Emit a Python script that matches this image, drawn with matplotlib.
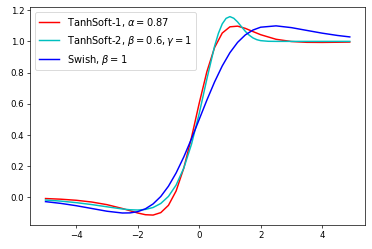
import matplotlib
matplotlib.use("Agg")
import matplotlib.pyplot as plt

# values (derivative curves)
x_ts1 = [-5, -4.5, -4, -3.5, -3, -2.5, -2.25, -2, -1.75, -1.5, -1.25, -1, -0.75, -0.5, -0.25,
         0, 0.25, 0.5, 0.75, 1, 1.25, 1.5, 1.75, 2, 2.5, 3, 3.5, 4, 4.5, 4.9]
y_ts1 = [-0.0067, -0.0110, -0.0179, -0.0290, -0.0460, -0.0705, -0.0849, -0.0993, -0.1104, -0.1127,
         -0.0970, -0.0502, 0.0420, 0.1887, 0.3843, 0.6030, 0.8060, 0.9602, 1.0534, 1.0933,
         1.0975, 1.0834, 1.0629, 1.0428, 1.0135, 0.9991, 0.9940, 0.9934, 0.9945, 0.9956]

x_ts2 = [-5, -4.5, -4, -3.5, -3, -2.5, -2.25, -2, -1.75, -1.5, -1.25, -1, -0.75, -0.5, -0.25,
         0, 0.25, 0.5, 0.625, 0.75, 0.875, 1, 1.125, 1.25, 1.375, 1.5, 1.625, 1.75, 1.875, 2,
         2.25, 2.5, 3, 3.5, 4, 4.5, 4.9]
y_ts2 = [-0.0162, -0.0233, -0.0330, -0.0453, -0.0597, -0.0736, -0.0786, -0.0803, -0.0766, -0.0642,
         -0.0384, 0.0069, 0.0797, 0.1888, 0.3414, 0.5371, 0.7591, 0.9682, 1.0512, 1.1120,
         1.1474, 1.1586, 1.1481, 1.1243, 1.0942, 1.0646, 1.0400, 1.0222, 1.0109, 1.0047,
         1.0006, 1.0000, 1.0000, 1.0000, 1.0000, 1.0000, 1.0000]

x_swish = [-5, -4.5, -4, -3.5, -3, -2.5, -2.25, -2, -1.75, -1.5, -1.25, -1, -0.75, -0.5, -0.25,
           0, 0.25, 0.5, 0.75, 1, 1.25, 1.5, 1.75, 2, 2.5, 3, 3.5, 4, 4.5, 4.9]
y_swish = [-0.0266, -0.0379, -0.0527, -0.0703, -0.0881, -0.0994, -0.0987, -0.0908, -0.0727, -0.0413,
           0.0063, 0.0723, 0.1574, 0.2600, 0.3763, 0.5000, 0.6237, 0.7400, 0.8426, 0.9277,
           0.9937, 1.0413, 1.0727, 1.0908, 1.0994, 1.0881, 1.0703, 1.0527, 1.0379, 1.0286]

labels = [r'TanhSoft-1, $\alpha = 0.87$',
          r'TanhSoft-2, $\beta = 0.6, \gamma = 1$',
          r'Swish, $\beta = 1$']

fig = plt.figure(figsize=(6, 249 / 62), dpi=62)
ax = fig.add_axes([30.3 / 372, 1 - 225 / 249, (365 - 30.3) / 372, (225 - 6.7) / 249])

ax.plot(x_ts1, y_ts1, 'r', lw=1.7, label=labels[0])
ax.plot(x_ts2, y_ts2, 'c', lw=1.7, label=labels[1])
ax.plot(x_swish, y_swish, 'b', lw=1.7, label=labels[2])
ax.legend(loc='upper left', fontsize=11.5)

fig.savefig('out.png', dpi=62)
